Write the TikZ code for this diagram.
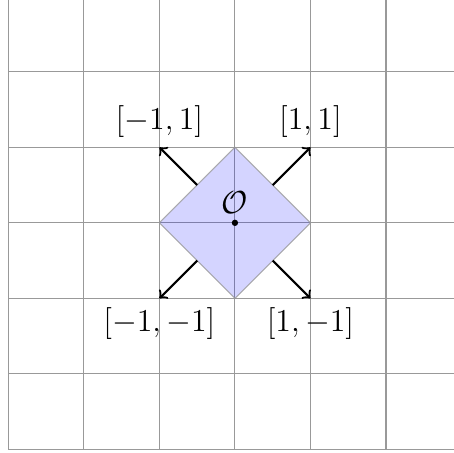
\documentclass[tikz,border=0pt]{standalone}
\usetikzlibrary{positioning}
\begin{document}
\begin{tikzpicture}[>=to,
  gridln/.style={draw=gray!80, line width=0.4pt},
  cell/.style={fill=blue, fill opacity=0.17, draw=gray!80, draw opacity=0.8, line width=0.4pt},
  vec/.style={->, thick},
  lbl/.style={font=\large}]
  \useasboundingbox (-3.11,-3.04) rectangle (2.90,2.95);
  % grid
  \draw[gridln] (-3,-3) grid (3,3);
  % unit cell
  \coordinate (e)  at (1,0);
  \coordinate (n)  at (0,1);
  \coordinate (w)  at (-1,0);
  \coordinate (s)  at (0,-1);
  \filldraw[cell] (e) -- (n) -- (w) -- (s) -- cycle;
  \coordinate (o) at (0,0);
  \fill (o) circle (1.2pt);
  \node[lbl, above=0pt of o] (olbl) {$\mathcal{O}$};
  % corner vectors
  \coordinate (mne) at (0.5,0.5);   \coordinate (pne) at (1,1);
  \coordinate (mnw) at (-0.5,0.5);  \coordinate (pnw) at (-1,1);
  \coordinate (msw) at (-0.5,-0.5); \coordinate (psw) at (-1,-1);
  \coordinate (mse) at (0.5,-0.5);  \coordinate (pse) at (1,-1);
  \draw[vec] (mne) -- (pne);
  \draw[vec] (mnw) -- (pnw);
  \draw[vec] (msw) -- (psw);
  \draw[vec] (mse) -- (pse);
  \node[lbl, above=0pt of pnw] (lnw) {$[-1,1]$};
  \node[lbl, above=0pt of pne] (lne) {$[1,1]$};
  \node[lbl, below=0pt of psw] (lsw) {$[-1,-1]$};
  \node[lbl, below=0pt of pse] (lse) {$[1,-1]$};
\end{tikzpicture}
\end{document}
